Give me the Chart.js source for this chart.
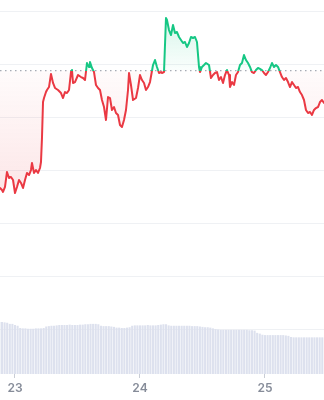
<!DOCTYPE html>
<html><head><meta charset="utf-8">
<script src="https://cdn.jsdelivr.net/npm/chart.js@4.4.1/dist/chart.umd.min.js"></script>
<style>html,body{margin:0;padding:0;background:#fff;overflow:hidden}canvas{display:block}</style>
</head><body>
<canvas id="c" width="324" height="400"></canvas>
<script>
// x values are hours since the start of day "23"
const dayLabels = ['23', '24', '25'];
const dayTicks = [0, 24, 48];
const gridValues = [0, 10, 20, 30, 40, 50, 60];

const priceTimes = [
  -2.88,-2.50,-2.30,-1.92,-1.54,-1.15,-0.77,-0.38,0.00,0.38,
  0.77,1.15,1.54,1.92,2.30,2.69,3.07,3.26,3.65,4.03,
  4.42,4.80,4.99,5.18,5.38,5.57,5.95,6.14,6.53,6.91,
  7.30,7.68,8.26,8.83,9.22,9.60,9.98,10.37,10.75,10.94,
  11.14,11.52,12.10,12.67,13.06,13.44,13.82,14.21,14.40,14.78,
  15.17,15.55,15.94,16.32,16.70,17.09,17.47,17.86,18.24,18.62,
  19.01,19.39,19.78,20.16,20.54,20.93,21.31,21.70,21.89,22.27,
  22.66,23.23,23.62,24.00,24.38,24.77,25.15,25.54,25.92,26.50,
  26.88,27.26,27.65,28.03,28.22,28.61,28.99,29.18,29.57,29.95,
  30.34,30.72,31.10,31.49,31.87,32.26,32.64,33.02,33.41,33.79,
  34.18,34.56,34.94,35.33,35.52,35.90,36.29,36.67,37.25,37.63,
  38.02,38.40,38.78,39.17,39.55,39.94,40.32,40.70,41.09,41.28,
  41.66,42.05,42.43,42.82,43.20,43.58,43.97,44.35,44.74,45.12,
  45.50,45.89,46.27,46.66,47.04,47.42,47.81,48.19,48.58,48.96,
  49.34,49.73,50.11,50.50,50.88,51.26,51.65,52.03,52.42,52.80,
  53.18,53.57,53.95,54.34,54.72,55.10,55.49,55.87,56.26,56.64,
  57.02,57.41,57.79,58.18,58.56,58.94,59.33
];
const prices = [
  26.71,26.33,25.96,26.90,29.72,28.59,28.78,28.21,25.77,26.90,
  28.21,27.65,26.71,28.21,29.53,29.15,30.09,31.41,29.53,30.09,
  29.53,30.47,31.60,36.11,42.88,43.63,44.76,45.14,45.70,48.15,
  46.46,45.52,45.14,44.57,43.63,44.76,44.57,45.14,48.52,48.90,
  46.46,46.64,47.96,47.58,47.40,47.02,50.22,49.47,50.41,49.28,
  48.52,46.08,45.52,45.14,43.26,41.94,39.50,43.82,43.63,41.38,
  41.94,40.81,40.44,38.56,38.18,39.50,41.38,45.14,48.34,46.08,
  43.26,43.63,45.52,47.96,47.02,46.46,45.14,45.70,46.64,49.84,
  50.78,49.47,48.34,48.52,48.34,48.52,58.68,58.30,56.42,55.48,
  57.36,55.86,56.05,55.11,54.54,53.98,54.17,53.23,53.98,55.11,
  54.92,55.11,54.17,49.47,48.52,49.47,49.84,50.22,49.84,47.40,
  47.96,48.34,48.52,47.02,47.58,46.46,47.96,48.90,47.96,45.70,
  46.64,46.08,47.96,48.52,49.84,50.22,51.72,50.78,50.22,49.47,
  48.52,48.34,48.90,49.28,49.10,48.90,48.34,47.96,48.52,49.28,
  50.22,49.47,49.84,49.47,48.52,47.58,47.02,47.40,46.64,45.70,
  46.64,46.08,45.52,45.70,44.76,44.20,43.26,41.38,40.81,41.00,
  40.44,41.38,41.75,41.94,42.88,43.26,42.69
];
const baselinePrice = 48.8;

const volStartHour = -3.0;
const volStepHours = 0.5;
const volumes = [
  13.9,13.9,13.8,13.7,
  13.4,13.4,
  13.1,12.9,
  12.3,12.2,12.2,12.1,12.1,12.1,12.2,12.2,12.2,12.3,
  12.7,12.8,12.9,12.9,
  13.0,13.1,13.1,13.1,13.1,13.2,13.1,13.1,13.1,13.2,13.2,13.3,13.3,
  13.4,13.4,13.4,13.3,
  12.9,12.8,12.8,12.8,12.7,12.6,
  12.4,12.4,12.3,12.3,12.4,12.5,
  12.9,13.0,13.0,13.0,13.0,13.0,13.1,13.0,13.0,13.0,13.1,13.2,
  13.3,13.3,
  13.0,12.9,12.9,12.9,12.9,12.9,12.9,12.9,12.9,12.8,12.8,12.8,12.7,
  12.6,12.5,12.5,12.4,12.2,
  12.0,11.9,11.8,11.8,11.8,11.8,11.8,11.8,11.8,11.8,11.8,11.8,11.8,11.7,11.7,11.6,
  11.0,10.8,
  10.5,10.4,10.4,10.4,10.4,10.4,10.4,10.4,10.4,10.3,10.2,
  9.9,9.8,9.8,9.8,9.8,9.8,9.8,9.8,9.8,9.8,9.8,9.8,9.8
];

const xRange = [-2.88, 59.33];
const yRange = [-8.28, 62.07];
const volMax = 100;

const RED = '#ea3943';
const GREEN = '#16c784';

function splitStroke(chart) {
  const {ctx, chartArea, scales} = chart;
  if (!chartArea) return RED;
  const yb = scales.y.getPixelForValue(baselinePrice);
  const f = Math.min(1, Math.max(0, (yb - chartArea.top) / (chartArea.bottom - chartArea.top)));
  const g = ctx.createLinearGradient(0, chartArea.top, 0, chartArea.bottom);
  g.addColorStop(0, GREEN); g.addColorStop(f, GREEN);
  g.addColorStop(f, RED); g.addColorStop(1, RED);
  return g;
}
function fillUp(chart) {
  const {ctx, chartArea, scales} = chart;
  if (!chartArea) return 'rgba(22,199,132,0.1)';
  const yb = scales.y.getPixelForValue(baselinePrice);
  const g = ctx.createLinearGradient(0, chartArea.top, 0, yb);
  g.addColorStop(0, 'rgba(22,199,132,0.22)');
  g.addColorStop(1, 'rgba(22,199,132,0.02)');
  return g;
}
function fillDown(chart) {
  const {ctx, chartArea, scales} = chart;
  if (!chartArea) return 'rgba(234,57,67,0.08)';
  const yb = scales.y.getPixelForValue(baselinePrice);
  const g = ctx.createLinearGradient(0, yb, 0, yb + 130);
  g.addColorStop(0, 'rgba(234,57,67,0.02)');
  g.addColorStop(1, 'rgba(234,57,67,0.13)');
  return g;
}

new Chart(document.getElementById('c'), {
  type: 'line',
  data: {
    datasets: [
      {
        type: 'line',
        data: priceTimes.map((t, i) => ({x: t, y: prices[i]})),
        yAxisID: 'y',
        borderWidth: 2,
        pointRadius: 0,
        tension: 0,
        borderJoinStyle: 'round',
        borderCapStyle: 'round',
        borderColor: c => splitStroke(c.chart),
        fill: c => ({target: {value: baselinePrice}, above: fillUp(c.chart), below: fillDown(c.chart)})
      },
      {
        type: 'line',
        data: [{x: xRange[0], y: baselinePrice}, {x: xRange[1], y: baselinePrice}],
        yAxisID: 'y',
        borderColor: '#a7acb5',
        borderWidth: 1.2,
        borderDash: [1.5, 3.5],
        pointRadius: 0,
        fill: false
      },
      {
        type: 'bar',
        data: volumes.map((v, i) => ({x: volStartHour + i * volStepHours, y: v})),
        yAxisID: 'v',
        backgroundColor: '#dde1ee',
        borderWidth: 0,
        categoryPercentage: 1,
        barPercentage: 0.8
      }
    ]
  },
  options: {
    responsive: false,
    animation: false,
    devicePixelRatio: 1,
    layout: {padding: 0},
    plugins: {legend: {display: false}, tooltip: {enabled: false}},
    scales: {
      x: {
        type: 'linear', position: 'bottom',
        min: xRange[0], max: xRange[1],
        offset: false,
        afterBuildTicks: s => { s.ticks = dayTicks.map(v => ({value: v})); },
        ticks: {
          callback: v => dayLabels[dayTicks.indexOf(v)],
          color: '#868c99',
          font: {family: 'Inter', size: 12, weight: '600'},
          padding: 3, maxRotation: 0, autoSkip: false
        },
        grid: {offset: false, drawOnChartArea: false, drawTicks: true, tickLength: 4, color: '#c9cdd5'},
        border: {display: false},
        afterFit: s => { s.height = 26; }
      },
      y: {
        type: 'linear', position: 'left',
        min: yRange[0], max: yRange[1],
        afterBuildTicks: s => { s.ticks = gridValues.map(v => ({value: v})); },
        ticks: {display: false},
        grid: {color: '#eff1f4', drawTicks: false, lineWidth: 1},
        border: {display: false},
        afterFit: s => { s.width = 0; }
      },
      v: {type: 'linear', display: false, min: 0, max: volMax}
    }
  }
});
</script>
</body></html>
